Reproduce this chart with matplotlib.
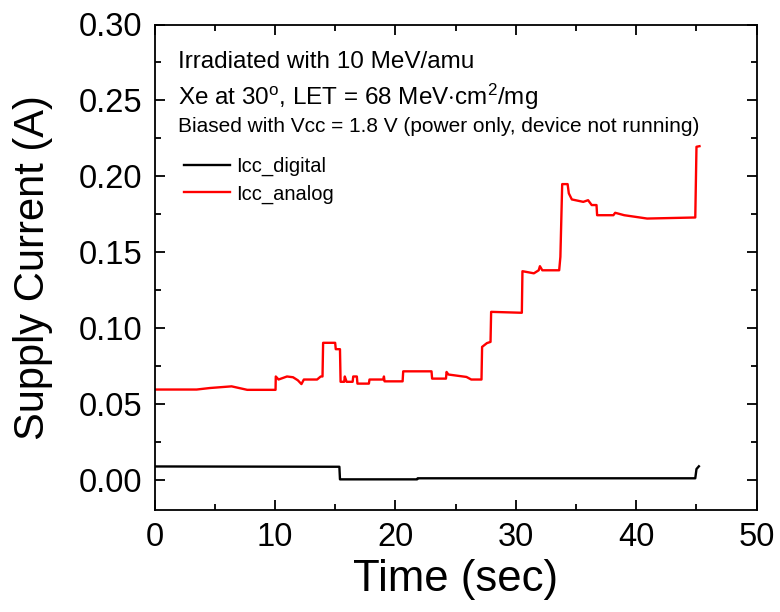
import matplotlib
matplotlib.use("Agg")
import matplotlib.pyplot as plt
from matplotlib.ticker import MultipleLocator

plt.rcParams['font.family'] = ['Liberation Sans', 'DejaVu Sans']
plt.rcParams['mathtext.fontset'] = 'custom'
plt.rcParams['mathtext.rm'] = 'Liberation Sans'
plt.rcParams['mathtext.it'] = 'Liberation Sans:italic'

# Icc_analog (red)
t_analog = [0, 3.5, 4.6, 6.4, 7.7, 10.05, 10.07, 10.3, 11.0, 11.5, 11.9, 12.2, 12.4, 13.5, 13.8,
            13.95, 14.0, 15.0, 15.05, 15.4, 15.45, 15.75, 15.8, 15.95, 16.45, 16.5, 16.8, 16.85,
            17.8, 17.85, 19.0, 19.05, 19.1, 20.6, 20.65, 23.0, 23.05, 24.2, 24.25, 24.4, 25.9,
            26.3, 27.15, 27.2, 27.6, 27.9, 27.95, 30.5, 30.55, 31.5, 31.9, 32.0, 32.2, 33.6,
            33.7, 33.85, 34.3, 34.4, 34.65, 35.6, 36.0, 36.3, 36.7, 36.75, 38.1, 38.25, 39.0,
            40.3, 40.9, 44.9, 45.0, 45.25]
i_analog = [0.0594, 0.0594, 0.0604, 0.0615, 0.0592, 0.0592, 0.0680, 0.0660, 0.0680, 0.0675,
            0.0655, 0.0630, 0.0660, 0.0660, 0.0680, 0.0680, 0.0902, 0.0902, 0.0860, 0.0860,
            0.0645, 0.0645, 0.0680, 0.0645, 0.0645, 0.0680, 0.0680, 0.0633, 0.0633, 0.0660,
            0.0660, 0.0680, 0.0648, 0.0648, 0.0714, 0.0714, 0.0666, 0.0666, 0.0710, 0.0693,
            0.0677, 0.0660, 0.0660, 0.0875, 0.0900, 0.0908, 0.1106, 0.1100, 0.1374, 0.1360,
            0.1380, 0.1407, 0.1380, 0.1380, 0.1468, 0.1948, 0.1948, 0.1887, 0.1847, 0.1831,
            0.1842, 0.1810, 0.1810, 0.1743, 0.1743, 0.1759, 0.1743, 0.1728, 0.1721, 0.1728,
            0.2194, 0.2198]

# Icc_digital (black)
t_digital = [0, 15.35, 15.4, 21.8, 21.85, 44.9, 45.0, 45.2]
i_digital = [0.0087, 0.0085, 0.0002, 0.0002, 0.0009, 0.0009, 0.0070, 0.0088]

x_ticks = [0, 10, 20, 30, 40, 50]
y_ticks = [0.00, 0.05, 0.10, 0.15, 0.20, 0.25, 0.30]

fig = plt.figure(figsize=(7.8, 6.12), dpi=100)
ax = fig.add_axes([154.5 / 780, 102 / 612, 602.2 / 780, 485.5 / 612])

ax.plot(t_digital, i_digital, color='black', lw=1.7, label='Icc_digital')
ax.plot(t_analog, i_analog, color='#ff0000', lw=1.7, label='Icc_analog')

ax.set_xlim(0, 50)
ax.set_ylim(-0.02, 0.30)
ax.set_xticks(x_ticks)
ax.set_yticks(y_ticks)
ax.set_xticklabels([str(v) for v in x_ticks])
ax.set_yticklabels([f"{v:.2f}" for v in y_ticks])
ax.xaxis.set_minor_locator(MultipleLocator(5))
ax.yaxis.set_minor_locator(MultipleLocator(0.025))
ax.tick_params(which='both', direction='in', top=True, right=True, width=1.3, labelsize=23.5)
ax.tick_params(which='major', length=7)
ax.tick_params(axis='y', which='major', pad=9)
ax.tick_params(axis='x', which='major', pad=9)
ax.tick_params(which='minor', length=4)
for s in ax.spines.values():
    s.set_linewidth(1.3)

ax.set_xlabel('Time (sec)', fontsize=31.5, labelpad=4)
ax.set_ylabel('Supply Current (A)', fontsize=30, labelpad=18)

ax.text(0.039, 0.923, 'Irradiated with 10 MeV/amu', transform=ax.transAxes,
        fontsize=17.5, va='center', ha='left')
ax.text(0.039, 0.851, r'Xe at 30$^\mathrm{o}$, LET = 68 MeV$\cdot$cm$^\mathrm{2}$/mg',
        transform=ax.transAxes, fontsize=17.5, va='center', ha='left')
ax.text(0.039, 0.789, 'Biased with Vcc = 1.8 V (power only, device not running)',
        transform=ax.transAxes, fontsize=15, va='center', ha='left')

ax.legend(loc='upper left', bbox_to_anchor=(0.049, 0.728), frameon=False, fontsize=14.5,
          handlelength=2.3, handletextpad=0.3, labelspacing=0.42, borderaxespad=0,
          borderpad=0)

fig.savefig('out.png', dpi=100)
